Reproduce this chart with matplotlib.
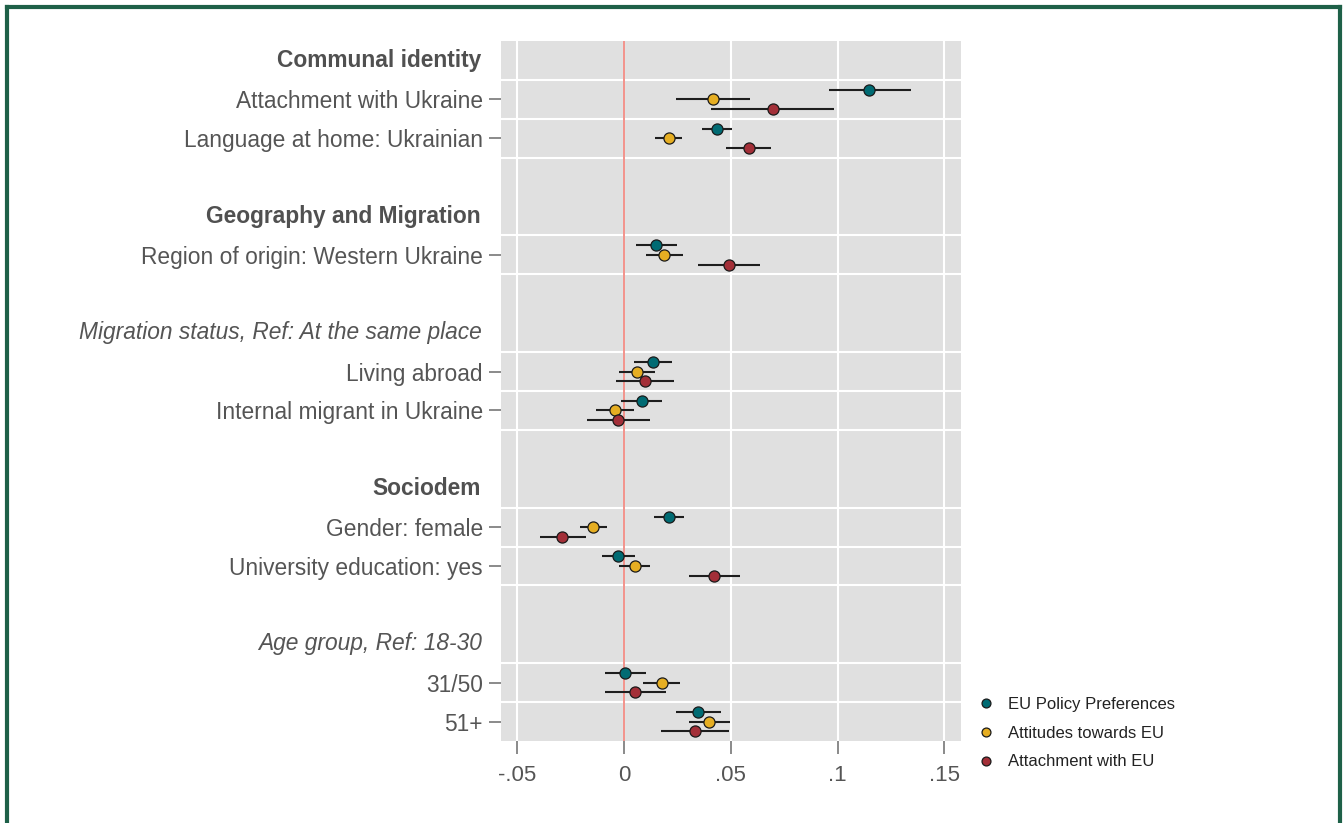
import matplotlib
matplotlib.use('Agg')
import matplotlib.pyplot as plt
from matplotlib.lines import Line2D
import matplotlib.transforms as mtransforms

plt.rcParams['font.family'] = ['Liberation Sans', 'DejaVu Sans']

# rows from top to bottom: (label, kind) kind = 'head', 'ital', 'data', ''
rows = [
    ('Communal identity', 'head'),
    ('Attachment with Ukraine', 'data'),
    ('Language at home: Ukrainian', 'data'),
    ('', ''),
    ('Geography and Migration', 'head'),
    ('Region of origin: Western Ukraine', 'data'),
    ('', ''),
    ('Migration status, Ref: At the same place', 'ital'),
    ('Living abroad', 'data'),
    ('Internal migrant in Ukraine', 'data'),
    ('', ''),
    ('Sociodem', 'head'),
    ('Gender: female', 'data'),
    ('University education: yes', 'data'),
    ('', ''),
    ('Age group, Ref: 18-30', 'ital'),
    ('31/50', 'data'),
    ('51+', 'data'),
]

series = ['EU Policy Preferences', 'Attitudes towards EU', 'Attachment with EU']
colors = ['#006b73', '#e6ae22', '#a32f38']

# estimates for data rows (same order as rows with kind 'data')
policy = [0.1148, 0.0434, 0.0150, 0.0133, 0.0083, 0.0211, -0.0028, 0.0005, 0.0348]
policy_lo = [0.0958, 0.0364, 0.0055, 0.0044, -0.0014, 0.0141, -0.0105, -0.0089, 0.0244]
policy_hi = [0.1344, 0.0506, 0.0247, 0.0225, 0.0178, 0.0281, 0.0052, 0.0102, 0.0455]

attitudes = [0.0416, 0.0209, 0.0188, 0.0059, -0.0044, -0.0144, 0.0050, 0.0175, 0.0398]
attitudes_lo = [0.0242, 0.0145, 0.0100, -0.0022, -0.0131, -0.0209, -0.0022, 0.0090, 0.0306]
attitudes_hi = [0.0591, 0.0273, 0.0275, 0.0144, 0.0044, -0.0080, 0.0122, 0.0262, 0.0498]

attach = [0.0697, 0.0583, 0.0489, 0.0098, -0.0028, -0.0289, 0.0423, 0.0052, 0.0331]
attach_lo = [0.0408, 0.0477, 0.0345, -0.0036, -0.0172, -0.0395, 0.0305, -0.0089, 0.0172]
attach_hi = [0.0984, 0.0689, 0.0636, 0.0234, 0.0119, -0.0181, 0.0542, 0.0195, 0.0491]

xticks = [-0.05, 0, 0.05, 0.1, 0.15]
xticklabels = ['-.05', '0', '.05', '.1', '.15']

W, H = 1343, 823
fig = plt.figure(figsize=(W / 100, H / 100), dpi=100)
ax = fig.add_axes([501 / W, 1 - 741 / H, 460 / W, 700 / H])
ax.set_facecolor('#e0e0e0')
for s in ax.spines.values():
    s.set_visible(False)

data_pos = [i for i, r in enumerate(rows) if r[1] == 'data']
data_lab = [r[0] for r in rows if r[1] == 'data']

ax.set_xlim(-0.0577, 0.1578)
ax.set_ylim(len(rows) - 0.5, -0.5)
ax.set_xticks(xticks)
ax.set_xticklabels(xticklabels)
ax.set_yticks(data_pos)
ax.set_yticklabels(data_lab)
ax.tick_params(axis='both', length=9, width=1.2, color='#777777',
               labelsize=16, labelcolor='#555555')
ax.tick_params(axis='y', labelsize=16.4, pad=4)
ax.tick_params(axis='x', pad=8)

# grid
for xt in xticks:
    ax.axvline(xt, color='white', lw=1.5, zorder=0)
bounds = set()
for p in data_pos:
    bounds.add(p - 0.5)
    bounds.add(p + 0.5)
for b in sorted(bounds):
    if b < len(rows) - 0.5:
        ax.axhline(b, color='white', lw=1.5, zorder=0)
ax.axvline(0, color='#f08078', lw=1.2, zorder=1)

# group headers
trans = mtransforms.blended_transform_factory(ax.transAxes, ax.transData)
for i, (lab, kind) in enumerate(rows):
    if kind == 'head':
        ax.text(-20 / 460, i, lab, transform=trans, ha='right', va='center',
                fontsize=16.4, fontweight='bold', color='#505050')
    elif kind == 'ital':
        ax.text(-19 / 460, i, lab, transform=trans, ha='right', va='center',
                fontsize=16.4, fontstyle='italic', color='#555555')

vals = [(policy, policy_lo, policy_hi), (attitudes, attitudes_lo, attitudes_hi),
        (attach, attach_lo, attach_hi)]
offsets = [-0.25, 0, 0.25]
for (v, lo, hi), off, c, name in zip(vals, offsets, colors, series):
    y = [p + off for p in data_pos]
    ax.hlines(y, lo, hi, color='#1e1e1e', lw=1.5, zorder=2)
    ax.plot(v, y, 'o', ms=8, mfc=c, mec='#1a1a1a', mew=0.9, zorder=3, label=name)

handles, labels = ax.get_legend_handles_labels()
fig.legend(handles, labels, loc='upper left', bbox_to_anchor=(978 / W, 1 - 697 / H),
           frameon=False, fontsize=12, markerscale=0.8, handlelength=1,
           handletextpad=0.8, labelspacing=0.82, borderpad=0, borderaxespad=0,
           labelcolor='#222222')

# green frame
green = '#1e6048'
fig.add_artist(Line2D([7 / W, 7 / W], [0, 1 - 7 / H], transform=fig.transFigure, color=green, lw=3))
fig.add_artist(Line2D([7 / W, 1340 / W], [1 - 7 / H, 1 - 7 / H], transform=fig.transFigure, color=green, lw=3))
fig.add_artist(Line2D([1340 / W, 1340 / W], [0, 1 - 7 / H], transform=fig.transFigure, color=green, lw=3))

fig.savefig('out.png', dpi=100)
